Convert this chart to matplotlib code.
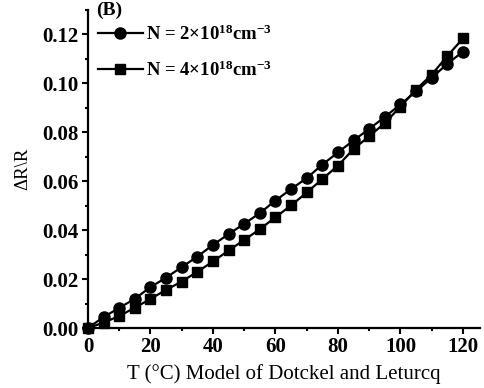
import matplotlib
matplotlib.use('Agg')
import matplotlib.pyplot as plt
from matplotlib.ticker import MultipleLocator

plt.rcParams['font.family'] = 'Liberation Serif'
plt.rcParams['font.weight'] = 'bold'
plt.rcParams['mathtext.fontset'] = 'custom'
plt.rcParams['mathtext.rm'] = 'Liberation Serif:bold'
plt.rcParams['mathtext.default'] = 'regular'

# temperatures (°C)
temps = [0, 5, 10, 15, 20, 25, 30, 35, 40, 45, 50, 55, 60,
         65, 70, 75, 80, 85, 90, 95, 100, 105, 110, 115, 120]

# dR/R for N = 2e18 cm^-3 (circles)
dr_n2 = [0.0, 0.0045, 0.0082, 0.012, 0.0167, 0.0206, 0.0249, 0.0292, 0.034,
         0.0384, 0.0426, 0.047, 0.0521, 0.0568, 0.0613, 0.0668, 0.0718,
         0.0767, 0.0814, 0.0863, 0.0914, 0.0968, 0.1023, 0.108, 0.113]

# dR/R for N = 4e18 cm^-3 (squares)
dr_n4 = [0.0, 0.0022, 0.0049, 0.0083, 0.0119, 0.0156, 0.019, 0.023, 0.0272,
         0.0317, 0.036, 0.0404, 0.0453, 0.0501, 0.0554, 0.0609, 0.0664,
         0.0732, 0.0784, 0.0838, 0.0905, 0.0975, 0.1036, 0.1112, 0.1184]

labels = [r'N = 2$\times$10$^{18}$cm$^{-3}$', r'N = 4$\times$10$^{18}$cm$^{-3}$']

fig = plt.figure(figsize=(4.85, 3.88), dpi=100)
ax = fig.add_axes([0.1814, 0.1546, 0.808, 0.8196])

ax.plot(temps, dr_n2, color='black', lw=1.6, marker='o', ms=8,
        label=labels[0], clip_on=False, zorder=3)
ax.plot(temps, dr_n4, color='black', lw=1.6, marker='s', ms=7,
        label=labels[1], clip_on=False, zorder=3)

ax.set_xlim(0, 125.4)
ax.set_ylim(0, 0.130)
ax.set_xticks(range(0, 121, 20))
ax.set_xticks(range(10, 121, 20), minor=True)
ax.yaxis.set_major_locator(MultipleLocator(0.02))
ax.yaxis.set_minor_locator(MultipleLocator(0.01))
ax.yaxis.set_major_formatter(matplotlib.ticker.FormatStrFormatter('%.2f'))

ax.spines['top'].set_visible(False)
ax.spines['right'].set_visible(False)
ax.spines['left'].set_linewidth(1.6)
ax.spines['bottom'].set_linewidth(1.6)
ax.tick_params(which='major', direction='out', length=4.5, width=1.5, labelsize=15, pad=2)
ax.tick_params(which='minor', direction='out', length=2.5, width=1.5)

ax.set_xlabel('T (°C) Model of Dotckel and Leturcq', fontsize=15, labelpad=5)
ax.set_ylabel('ΔR\\R', fontsize=13.5, labelpad=8)

ax.text(0.02, 1.025, '(B)', transform=ax.transAxes, fontsize=14,
        ha='left', va='top')

ax.legend(loc='upper left', bbox_to_anchor=(0.025, 0.955), frameon=False,
          fontsize=13.5, handlelength=2.4, handletextpad=0.15,
          labelspacing=0.9, borderaxespad=0, borderpad=0)

fig.savefig('out.png', dpi=100)
